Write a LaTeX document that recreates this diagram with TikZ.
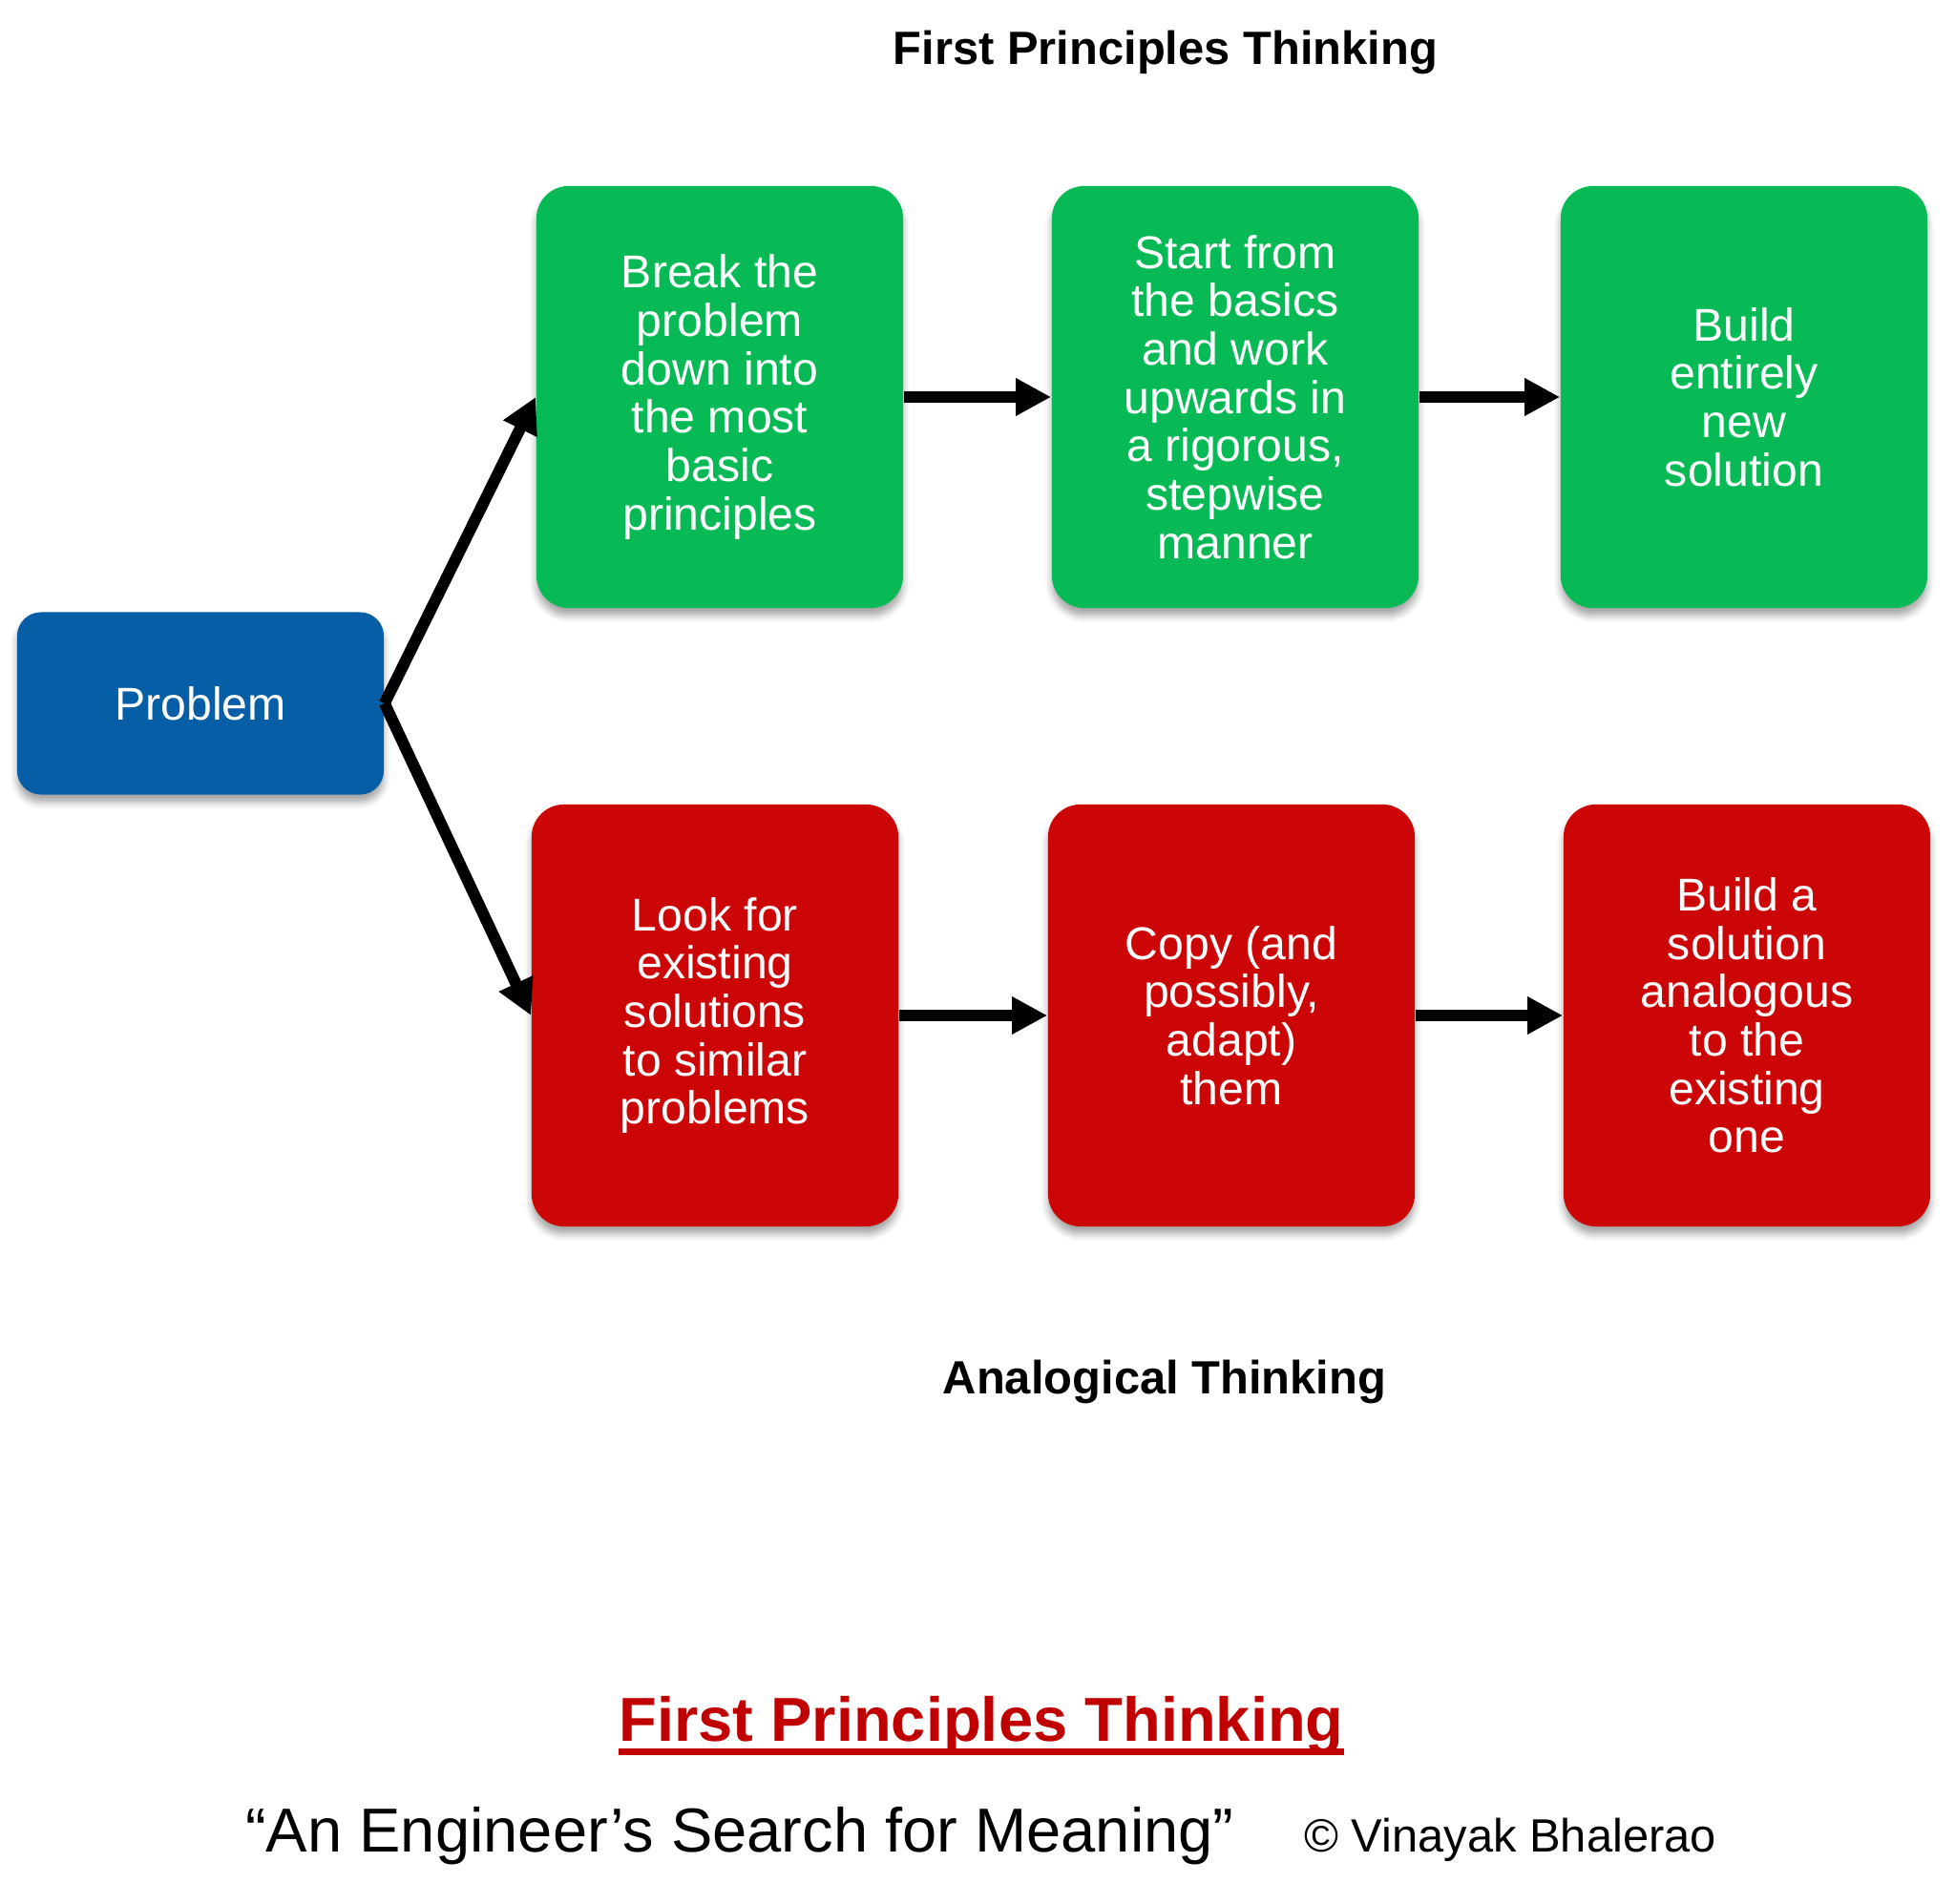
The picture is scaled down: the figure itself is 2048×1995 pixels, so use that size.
\documentclass[tikz,border=0pt]{standalone}
\usepackage{fontspec}
\setmainfont{Liberation Sans}
\usetikzlibrary{arrows.meta,shadows.blur}
\definecolor{green1}{RGB}{8,186,86}
\definecolor{red1}{RGB}{204,6,6}
\definecolor{blue1}{RGB}{6,94,166}
\definecolor{red2}{RGB}{192,0,0}

\begin{document}
\begin{tikzpicture}[x=0.01cm,y=-0.01cm,>={Triangle[length=0.37cm,width=0.37cm]},
    box/.style={rounded corners=0.34cm,minimum width=3.84cm,minimum height=4.42cm,
      align=center,text=white,font=\fontsize{13.7}{14.4}\selectfont,
      blur shadow={shadow xshift=0pt,shadow yshift=-0.08cm,shadow blur radius=0.07cm,shadow opacity=35}},
    arr/.style={->,line width=0.12cm},
    head/.style={anchor=base,font=\bfseries\fontsize{13.9}{16}\selectfont}]
    \useasboundingbox (0,0) rectangle (2048,1995);

    \node[head] (fpt) at (1221,68) {First Principles Thinking};
    \node[head] (ant) at (1220,1460) {Analogical Thinking};

    \node[box,fill=blue1,minimum height=1.91cm,rounded corners=0.25cm] (prob) at (210,737) {Problem};

    \node[box,fill=green1] (g1) at (754,416) {Break the\\problem\\down into\\the most\\basic\\principles};
    \node[box,fill=green1] (g2) at (1294,416) {Start from\\the basics\\and work\\upwards in\\a rigorous,\\stepwise\\manner};
    \node[box,fill=green1] (g3) at (1827,416) {Build\\entirely\\new\\solution};

    \node[box,fill=red1] (r1) at (749,1064) {Look for\\existing\\solutions\\to similar\\problems};
    \node[box,fill=red1] (r2) at (1290,1064) {Copy (and\\possibly,\\adapt)\\them};
    \node[box,fill=red1] (r3) at (1830,1064) {Build a\\solution\\analogous\\to the\\existing\\one};

    \draw[arr] (prob.east) -- (g1.west);
    \draw[arr] (prob.east) -- (r1.west);
    \draw[arr] (g1) -- (g2);
    \draw[arr] (g2) -- (g3);
    \draw[arr] (r1) -- (r2);
    \draw[arr] (r2) -- (r3);

    % bottom lines
    \node[anchor=base,inner sep=0pt,text=red2,font=\bfseries\fontsize{18.5}{22}\selectfont] (book) at (1028,1824) {First Principles Thinking};
    \draw[red2,line width=0.07cm] ([yshift=-0.115cm]book.base west) -- ([yshift=-0.115cm]book.base east);
    \node[anchor=base,font=\fontsize{18.5}{22}\selectfont] (quote) at (775,1940) {“An Engineer’s Search for Meaning”};
    \node[anchor=base,font=\fontsize{13.9}{16}\selectfont] (copy) at (1582,1940) {© Vinayak Bhalerao};
\end{tikzpicture}
\end{document}
